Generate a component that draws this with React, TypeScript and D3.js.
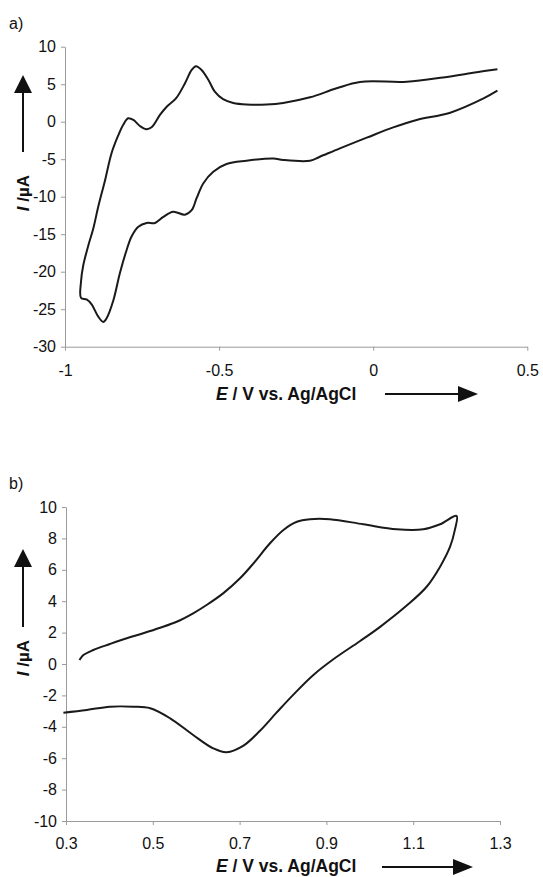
import React, { useEffect, useRef } from 'react';
import * as d3 from 'd3';

const W = 543;
const H = 877;

// ---------- Panel a) ----------
const aXTicks = [-1, -0.5, 0, 0.5];
const aXTickLabels = ['-1', '-0.5', '0', '0.5'];
const aYTicks = [10, 5, 0, -5, -10, -15, -20, -25, -30];
const aYTickLabels = ['10', '5', '0', '-5', '-10', '-15', '-20', '-25', '-30'];

// anodic (upper) branch, left -> right
const aUpperE = [-0.948, -0.941, -0.925, -0.908, -0.892, -0.870, -0.849, -0.827, -0.811, -0.795, -0.778, -0.757, -0.737, -0.719, -0.692, -0.670, -0.640, -0.611, -0.589, -0.575, -0.557, -0.535, -0.514, -0.487, -0.454, -0.411, -0.346, -0.292, -0.205, -0.119, -0.043, 0.109, 0.227, 0.336, 0.403];
const aUpperI = [-21.3, -19.2, -16.6, -14.2, -11.3, -7.8, -4.2, -1.8, -0.4, 0.45, 0.23, -0.57, -1.0, -0.75, 0.9, 2.0, 3.1, 5.1, 6.9, 7.4, 6.9, 5.6, 4.0, 3.0, 2.5, 2.3, 2.3, 2.5, 3.25, 4.45, 5.3, 5.33, 5.9, 6.6, 7.0];
// cathodic (lower) branch, right -> left
const aLowerE = [0.403, 0.358, 0.250, 0.141, 0.065, -0.021, -0.108, -0.173, -0.205, -0.292, -0.324, -0.411, -0.476, -0.519, -0.551, -0.573, -0.589, -0.611, -0.649, -0.681, -0.708, -0.735, -0.762, -0.784, -0.800, -0.822, -0.843, -0.865, -0.876, -0.892, -0.913, -0.930, -0.948];
const aLowerI = [4.13, 3.1, 1.2, 0.23, -0.75, -2.13, -3.55, -4.67, -5.2, -5.1, -4.9, -5.2, -5.64, -6.67, -8.2, -10.2, -11.8, -12.4, -12.0, -12.7, -13.5, -13.5, -14.0, -15.3, -17.1, -20.2, -23.8, -26.2, -26.7, -26.0, -24.4, -23.7, -23.5];

// ---------- Panel b) ----------
const bXTicks = [0.3, 0.5, 0.7, 0.9, 1.1, 1.3];
const bXTickLabels = ['0.3', '0.5', '0.7', '0.9', '1.1', '1.3'];
const bYTicks = [10, 8, 6, 4, 2, 0, -2, -4, -6, -8, -10];
const bYTickLabels = ['10', '8', '6', '4', '2', '0', '-2', '-4', '-6', '-8', '-10'];

// anodic (upper) branch, left -> right
const bUpperE = [0.331, 0.340, 0.363, 0.401, 0.440, 0.478, 0.517, 0.555, 0.593, 0.624, 0.662, 0.701, 0.732, 0.770, 0.801, 0.832, 0.862, 0.908, 0.985, 1.062, 1.123, 1.162, 1.200];
const bUpperI = [0.25, 0.57, 0.89, 1.27, 1.64, 1.96, 2.31, 2.69, 3.23, 3.76, 4.50, 5.46, 6.41, 7.69, 8.54, 9.06, 9.22, 9.22, 8.90, 8.58, 8.58, 8.90, 9.43];
// cathodic (lower) branch, right -> left
const bLowerE = [1.200, 1.196, 1.185, 1.162, 1.131, 1.085, 1.023, 0.977, 0.916, 0.870, 0.824, 0.785, 0.747, 0.709, 0.670, 0.639, 0.593, 0.540, 0.494, 0.455, 0.401, 0.348, 0.294];
const bLowerI = [9.43, 8.54, 7.47, 6.20, 4.92, 3.72, 2.35, 1.45, 0.3, -0.7, -1.95, -3.1, -4.25, -5.2, -5.62, -5.37, -4.52, -3.46, -2.82, -2.72, -2.72, -2.93, -3.10];

const FONT = "'Liberation Sans', Arial, Helvetica, sans-serif";

type Panel = {
  label: string;
  labelY: number;
  xDomain: [number, number];
  xRange: [number, number];
  yDomain: [number, number];
  yRange: [number, number];
  xTicks: number[];
  xTickLabels: string[];
  yTicks: number[];
  yTickLabels: string[];
  xPad: number;
  upperE: number[];
  upperI: number[];
  lowerE: number[];
  lowerI: number[];
  joinLeft: boolean;
  xTitleY: number;
  xArrowY: number;
  xArrow: [number, number];
  yTitleY: number;
  yArrowTip: number;
  yArrowEnd: number;
};

function drawPanel(svg: d3.Selection<SVGSVGElement, unknown, null, undefined>, p: Panel) {
  const x = d3.scaleLinear().domain(p.xDomain).range(p.xRange);
  const y = d3.scaleLinear().domain(p.yDomain).range(p.yRange);
  const g = svg.append('g');

  const axisColor = '#9a9a9a';

  const yAxis = d3
    .axisLeft(y)
    .tickValues(p.yTicks)
    .tickSize(4)
    .tickSizeOuter(0)
    .tickPadding(5)
    .tickFormat((d, i) => p.yTickLabels[i]);
  const ya = g.append('g').attr('transform', `translate(${p.xRange[0]},0)`).call(yAxis);

  const xAxis = d3
    .axisBottom(x)
    .tickValues(p.xTicks)
    .tickSize(4)
    .tickSizeOuter(0)
    .tickPadding(p.xPad)
    .tickFormat((d, i) => p.xTickLabels[i]);
  const xa = g.append('g').attr('transform', `translate(0,${p.yRange[0]})`).call(xAxis);

  [ya, xa].forEach((a) => {
    a.select('.domain').attr('stroke', axisColor).attr('stroke-width', 1);
    a.selectAll('.tick line').attr('stroke', axisColor);
    a.selectAll('.tick text')
      .attr('fill', '#111')
      .style('font-family', FONT)
      .style('font-size', '16px');
  });

  const line = d3
    .line<[number, number]>()
    .x((d) => x(d[0]))
    .y((d) => y(d[1]))
    .curve(d3.curveCatmullRom.alpha(0.5));

  const up: [number, number][] = p.upperE.map((e, i) => [e, p.upperI[i]]);
  const low: [number, number][] = p.lowerE.map((e, i) => [e, p.lowerI[i]]);
  // upper goes left->right, lower right->left
  const pts: [number, number][] = p.joinLeft
    ? [...up.slice().reverse(), ...low.slice().reverse()]
    : [...up, ...low.slice(1)];

  g.append('path')
    .attr('d', line(pts))
    .attr('fill', 'none')
    .attr('stroke', '#1a1a1a')
    .attr('stroke-width', 2)
    .attr('stroke-linejoin', 'round');

  // panel label
  g.append('text')
    .attr('x', 9)
    .attr('y', p.labelY)
    .style('font-family', FONT)
    .style('font-size', '16px')
    .attr('fill', '#111')
    .text(p.label);

  // x title
  const xt = g
    .append('text')
    .attr('x', 216)
    .attr('y', p.xTitleY)
    .style('font-family', FONT)
    .style('font-size', '17.5px')
    .style('font-weight', 'bold')
    .attr('fill', '#111');
  xt.append('tspan').style('font-style', 'italic').text('E');
  xt.append('tspan').text(' / V vs. Ag/AgCl');

  g.append('line')
    .attr('x1', p.xArrow[0])
    .attr('x2', p.xArrow[1] - 18)
    .attr('y1', p.xArrowY)
    .attr('y2', p.xArrowY)
    .attr('stroke', '#111')
    .attr('stroke-width', 2);
  g.append('path')
    .attr(
      'd',
      `M${p.xArrow[1]},${p.xArrowY} L${p.xArrow[1] - 20},${p.xArrowY - 8} L${p.xArrow[1] - 20},${p.xArrowY + 8} Z`
    )
    .attr('fill', '#111');

  // y title
  const yt = g
    .append('text')
    .attr('transform', `translate(29,${p.yTitleY}) rotate(-90)`)
    .attr('text-anchor', 'middle')
    .style('font-family', FONT)
    .style('font-size', '17px')
    .style('font-weight', 'bold')
    .attr('fill', '#111');
  yt.append('tspan').style('font-style', 'italic').text('I');
  yt.append('tspan').text(' /µA');

  g.append('line')
    .attr('x1', 23)
    .attr('x2', 23)
    .attr('y1', p.yArrowEnd)
    .attr('y2', p.yArrowTip + 16)
    .attr('stroke', '#111')
    .attr('stroke-width', 2);
  g.append('path')
    .attr('d', `M23,${p.yArrowTip} L14,${p.yArrowTip + 18} L32,${p.yArrowTip + 18} Z`)
    .attr('fill', '#111');
}

export default function App() {
  const ref = useRef<SVGSVGElement>(null);

  useEffect(() => {
    if (!ref.current) return;
    const svg = d3.select(ref.current);
    svg.selectAll('*').remove();

    drawPanel(svg, {
      label: 'a)',
      labelY: 29,
      xDomain: [-1, 0.5],
      xRange: [65, 527.3],
      yDomain: [-30, 10],
      yRange: [346.7, 46.7],
      xTicks: aXTicks,
      xTickLabels: aXTickLabels,
      yTicks: aYTicks,
      yTickLabels: aYTickLabels,
      xPad: 14,
      upperE: aUpperE,
      upperI: aUpperI,
      lowerE: aLowerE,
      lowerI: aLowerI,
      joinLeft: true,
      xTitleY: 400,
      xArrowY: 394,
      xArrow: [385, 478],
      yTitleY: 193,
      yArrowTip: 75,
      yArrowEnd: 152,
    });

    drawPanel(svg, {
      label: 'b)',
      labelY: 489,
      xDomain: [0.3, 1.3],
      xRange: [66, 500],
      yDomain: [-10, 10],
      yRange: [821, 507],
      xTicks: bXTicks,
      xTickLabels: bXTickLabels,
      yTicks: bYTicks,
      yTickLabels: bYTickLabels,
      xPad: 13,
      upperE: bUpperE,
      upperI: bUpperI,
      lowerE: bLowerE,
      lowerI: bLowerI,
      joinLeft: false,
      xTitleY: 872,
      xArrowY: 867,
      xArrow: [382, 473],
      yTitleY: 658,
      yArrowTip: 549,
      yArrowEnd: 627,
    });
  }, []);

  return (
    <svg
      ref={ref}
      width={W}
      height={H}
      style={{ position: 'absolute', left: 0, top: 0, background: '#fff', display: 'block' }}
    />
  );
}
